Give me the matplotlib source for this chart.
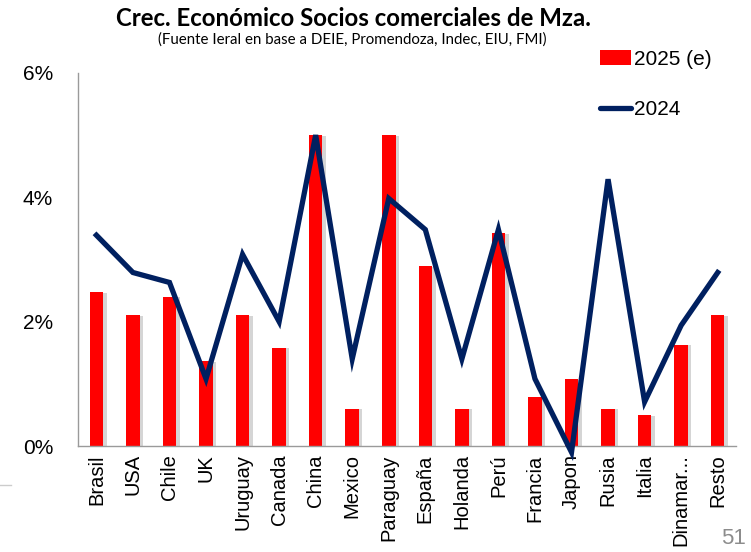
import matplotlib
matplotlib.use("Agg")
import matplotlib.pyplot as plt
import matplotlib.patheffects as pe
from matplotlib.lines import Line2D
from matplotlib.patches import Patch
import numpy as np

paises = ["Brasil", "USA", "Chile", "UK", "Uruguay", "Canada", "China", "Mexico",
          "Paraguay", "España", "Holanda", "Perú", "Francia", "Japon", "Rusia",
          "Italia", "Dinamar...", "Resto"]
crec_2025 = [2.47, 2.1, 2.4, 1.37, 2.1, 1.58, 5.0, 0.6, 5.0, 2.89, 0.6, 3.42,
             0.79, 1.08, 0.6, 0.5, 1.63, 2.1]
crec_2024 = [3.39, 2.79, 2.63, 1.08, 3.08, 2.0, 5.0, 1.4, 3.98, 3.48, 1.4, 3.48,
             1.08, -0.1, 4.29, 0.71, 1.94, 2.79]
yticks = [0, 2, 4, 6]

plt.rcParams["font.family"] = ["Liberation Sans", "DejaVu Sans"]

fig = plt.figure(figsize=(7.51, 5.52), dpi=100)
ax = fig.add_axes([0.104, 0.192, 0.876, 0.676])

x = np.arange(len(paises))
bars = ax.bar(x, crec_2025, width=0.37, color="#ff0000", zorder=2)
for b in bars:
    b.set_path_effects([pe.SimplePatchShadow(offset=(2.5, -0.5), shadow_rgbFace="#888888", alpha=0.35),
                        pe.Normal()])
ax.plot(x, crec_2024, color="#002060", linewidth=3.8, zorder=3, clip_on=False,
        solid_joinstyle="miter")

ax.set_xlim(-0.5, len(paises) - 0.5)
ax.set_ylim(0, 6)
ax.set_yticks(yticks)
ax.set_yticklabels([f"{v}%" for v in yticks], fontsize=15)
ax.set_xticks(x)
ax.set_xticklabels(paises, rotation=90, fontsize=14.5)
ax.tick_params(length=0, pad=6)
ax.tick_params(axis="y", pad=18)
for s in ["top", "right"]:
    ax.spines[s].set_visible(False)
for s in ["left", "bottom"]:
    ax.spines[s].set_color("#9a9a9a")
    ax.spines[s].set_linewidth(1.0)

fig.text(0.471, 0.967, "Crec. Económico Socios comerciales de Mza.", ha="center", va="center",
         fontsize=17.3, fontweight="bold", family=["Lato", "DejaVu Sans"])
fig.text(0.469, 0.929, "(Fuente Ieral en base a DEIE, Promendoza, Indec, EIU, FMI)", ha="center",
         va="center", fontsize=10.8, family=["Lato", "DejaVu Sans"])

handles = [Patch(facecolor="#ff0000"),
           Line2D([0], [0], color="#002060", linewidth=3.8, solid_capstyle="round")]
fig.legend(handles, ["2025 (e)", "2024"], loc="upper left", bbox_to_anchor=(0.799, 0.91),
           frameon=False, fontsize=15, handlelength=1.5, handletextpad=0.12,
           labelspacing=1.5, borderpad=0, borderaxespad=0)

fig.add_artist(Line2D([0.0, 0.015], [0.121, 0.121], color="#cccccc", linewidth=1))
fig.text(0.993, 0.005, "51", ha="right", va="bottom", fontsize=16, color="#8c8c8c")

fig.savefig("out.png", dpi=100)
